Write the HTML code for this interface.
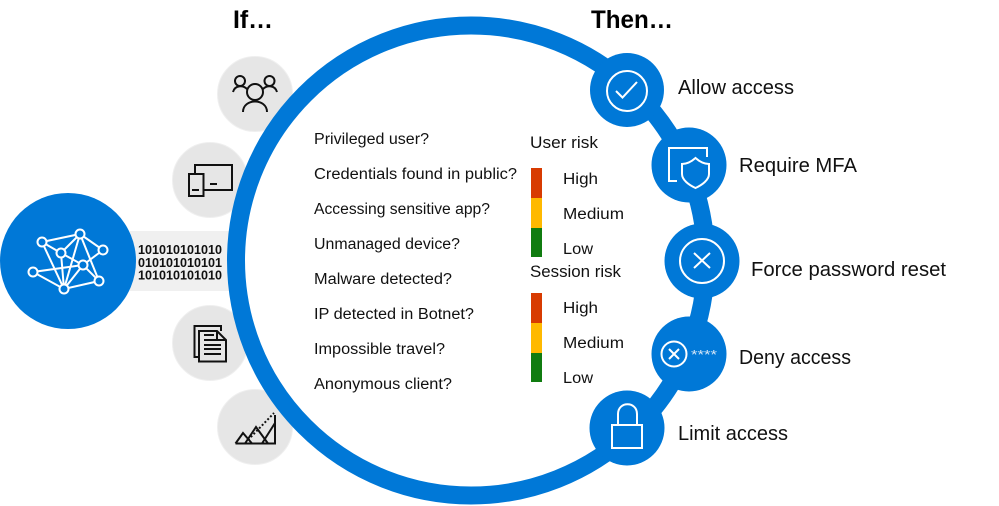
<!DOCTYPE html>
<html><head><meta charset="utf-8"><style>
html,body{margin:0;padding:0;background:#fff}
svg{display:block}
text{font-family:"Liberation Sans",sans-serif;fill:#111}
.q text{font-size:15.5px}
.r text{font-size:15.5px}
.a text{font-size:20px}
.h{font-size:25px;font-weight:bold;fill:#000}
.b{font-family:"Liberation Sans",sans-serif;font-size:12.5px;font-weight:bold;fill:#111}
.k{fill:none;stroke:#111;stroke-width:2}
.w{fill:none;stroke:#fff;stroke-width:2}
</style></head><body>
<svg width="999" height="506" viewBox="0 0 999 506" xmlns="http://www.w3.org/2000/svg">
<rect x="130" y="231" width="105" height="60" fill="#f0f0f0"/>
<g fill="#e6e6e6" stroke="#efefef" stroke-width="1">
<circle cx="255" cy="94" r="37.5"/>
<circle cx="210" cy="180" r="37.5"/>
<circle cx="210" cy="343" r="37.5"/>
<circle cx="255" cy="427" r="37.5"/>
</g>
<circle cx="471" cy="260.5" r="235" fill="#fff" stroke="#0078d7" stroke-width="18"/>
<circle cx="68" cy="261" r="68" fill="#0078d7"/>
<text class="b" x="138" y="254" textLength="84" lengthAdjust="spacingAndGlyphs">101010101010</text>
<text class="b" x="138" y="267" textLength="84" lengthAdjust="spacingAndGlyphs">010101010101</text>
<text class="b" x="138" y="279.500" textLength="84" lengthAdjust="spacingAndGlyphs">101010101010</text>
<g stroke="#fff" stroke-width="2" fill="none">
<path d="M42 242L80 234L103 250L83 265M42 242L61 253L83 265L99 281L64 289L33 272L83 265M42 242L64 289M80 234L61 253M80 234L64 289M80 234L99 281M61 253L64 289M83 265L64 289"/>
</g>
<g fill="#0078d7" stroke="#fff" stroke-width="2">
<circle cx="42" cy="242" r="4.5"/><circle cx="80" cy="234" r="4.5"/><circle cx="103" cy="250" r="4.5"/><circle cx="61" cy="253" r="4.5"/><circle cx="83" cy="265" r="4.5"/><circle cx="33" cy="272" r="4.5"/><circle cx="99" cy="281" r="4.5"/><circle cx="64" cy="289" r="4.5"/>
</g>
<circle class="k" cx="255" cy="92" r="8"/><path class="k" d="M243 112C243 98 267 98 267 112"/>
<circle class="k" cx="240" cy="81" r="5"/><circle class="k" cx="269.500" cy="81" r="5"/>
<path class="k" d="M233 92C235 85 243 85 247 89M263 89C267 85 275 85 277 92"/>
<path class="k" d="M195 173V165H232V190H204"/>
<rect class="k" x="189" y="174" width="14.500" height="22"/>
<path class="k" d="M192 190h7M210 184h7"/>
<path class="k" d="M221 331V326H194.500V357H199"/>
<path class="k" d="M199 331H217L226 340V361.500H199Z" fill="#e6e6e6"/>
<path class="k" d="M217 331V340H226M204 335h10M204 340h16M204 345h17M204 349h17M204 354h17" stroke-width="1.500"/>
<path class="k" d="M235.500 443.500H275V415M235.500 443.500L243 433L252 443.500M245 443.500L256 427L268 443.500M262 443.500L275 423"/>
<path class="k" stroke-dasharray="2 2" d="M248 440L274 413"/>
<text class="h" x="233" y="28" textLength="40" lengthAdjust="spacingAndGlyphs">If…</text>
<text class="h" x="591" y="28" textLength="82" lengthAdjust="spacingAndGlyphs">Then…</text>
<g class="q">
<text x="314" y="144" textLength="115" lengthAdjust="spacingAndGlyphs">Privileged user?</text>
<text x="314" y="179" textLength="203" lengthAdjust="spacingAndGlyphs">Credentials found in public?</text>
<text x="314" y="214" textLength="176" lengthAdjust="spacingAndGlyphs">Accessing sensitive app?</text>
<text x="314" y="249" textLength="146" lengthAdjust="spacingAndGlyphs">Unmanaged device?</text>
<text x="314" y="284" textLength="138" lengthAdjust="spacingAndGlyphs">Malware detected?</text>
<text x="314" y="319" textLength="160" lengthAdjust="spacingAndGlyphs">IP detected in Botnet?</text>
<text x="314" y="354" textLength="131" lengthAdjust="spacingAndGlyphs">Impossible travel?</text>
<text x="314" y="389" textLength="138" lengthAdjust="spacingAndGlyphs">Anonymous client?</text>
</g>
<g class="r">
<text x="530" y="148" textLength="68" lengthAdjust="spacingAndGlyphs" style="font-size:17px">User risk</text>
<text x="563" y="184" textLength="35" lengthAdjust="spacingAndGlyphs">High</text>
<text x="563" y="219" textLength="61" lengthAdjust="spacingAndGlyphs">Medium</text>
<text x="563" y="254" textLength="30" lengthAdjust="spacingAndGlyphs">Low</text>
<text x="530" y="277" textLength="91" lengthAdjust="spacingAndGlyphs" style="font-size:17px">Session risk</text>
<text x="563" y="313" textLength="35" lengthAdjust="spacingAndGlyphs">High</text>
<text x="563" y="348" textLength="61" lengthAdjust="spacingAndGlyphs">Medium</text>
<text x="563" y="383" textLength="30" lengthAdjust="spacingAndGlyphs">Low</text>
</g>
<rect x="531" y="168" width="11" height="30" fill="#d83b01"/>
<rect x="531" y="198" width="11" height="30" fill="#ffb900"/>
<rect x="531" y="228" width="11" height="29" fill="#107c10"/>
<rect x="531" y="293" width="11" height="30" fill="#d83b01"/>
<rect x="531" y="323" width="11" height="30" fill="#ffb900"/>
<rect x="531" y="353" width="11" height="29" fill="#107c10"/>
<g fill="#0078d7">
<circle cx="627" cy="90" r="37"/>
<circle cx="689" cy="165" r="37.500"/>
<circle cx="702" cy="261" r="37.500"/>
<circle cx="689" cy="354" r="37.500"/>
<circle cx="627" cy="428" r="37.500"/>
</g>
<circle class="w" cx="627" cy="91" r="20"/>
<path class="w" d="M616 91L622.500 97.500L637 82"/>
<path class="w" d="M677 181H669V148H707V157"/>
<path class="w" d="M695.500 158C691 162 687 164 682 164V174C682 180 689 185 695.500 188C702 185 709 180 709 174V164C704 164 700 162 695.500 158Z"/>
<circle class="w" cx="702" cy="261" r="22"/>
<path class="w" d="M694 253L710 268M710 253L694 268"/>
<circle class="w" cx="674" cy="354" r="12.500"/>
<path class="w" d="M669 349L679 359M679 349L669 359"/>
<text x="691" y="359" font-size="13" style="fill:#d8e8f8" textLength="26" lengthAdjust="spacingAndGlyphs">****</text>
<path class="w" d="M618 425V414C618 401 637 401 637 414V425"/>
<rect class="w" x="612" y="425" width="30" height="23"/>
<g class="a">
<text x="678" y="94" textLength="116" lengthAdjust="spacingAndGlyphs">Allow access</text>
<text x="739" y="172" textLength="118" lengthAdjust="spacingAndGlyphs">Require MFA</text>
<text x="751" y="276" textLength="195" lengthAdjust="spacingAndGlyphs">Force password reset</text>
<text x="739" y="364" textLength="112" lengthAdjust="spacingAndGlyphs">Deny access</text>
<text x="678" y="440" textLength="110" lengthAdjust="spacingAndGlyphs">Limit access</text>
</g>
</svg>
</body></html>
